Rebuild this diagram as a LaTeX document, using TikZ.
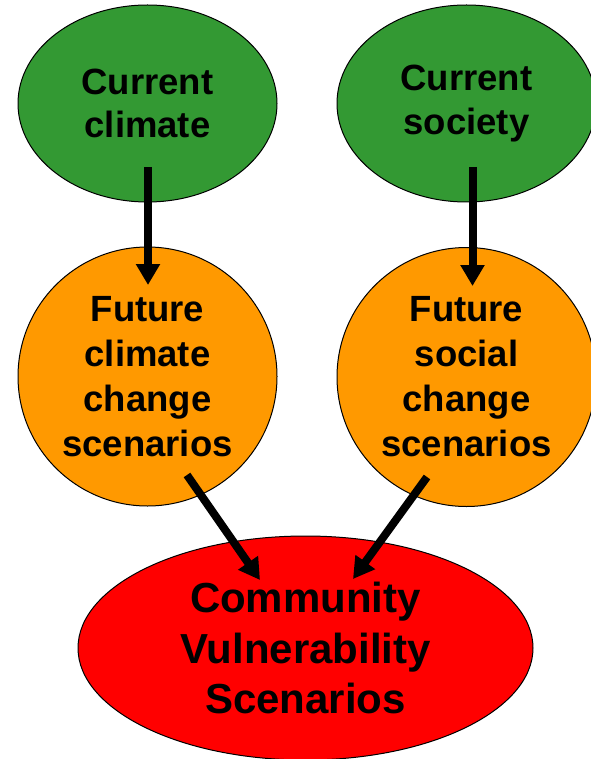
\documentclass[tikz,border=0pt]{standalone}
\usepackage{fontspec}
\setmainfont{Liberation Sans}
\usetikzlibrary{shapes.geometric,arrows.meta}
\definecolor{nowgreen}{RGB}{51,153,51}
\definecolor{futorange}{RGB}{255,153,0}
\definecolor{vulnred}{RGB}{255,0,0}
\begin{document}
\begin{tikzpicture}[x=1pt,y=-1pt,
		nowbox/.style={ellipse,draw=black,line width=1pt,fill=nowgreen,minimum width=259pt,minimum height=197pt,inner sep=0pt,align=center,font=\fontsize{36.5}{43.5}\selectfont\bfseries,execute at begin node={\rule{0pt}{33pt}}},
		futurebox/.style={circle,draw=black,line width=1pt,fill=futorange,minimum size=259pt,inner sep=0pt,align=center,font=\fontsize{36.5}{45}\selectfont\bfseries},
		vulnbox/.style={ellipse,draw=black,line width=1pt,fill=vulnred,minimum width=455pt,minimum height=224pt,inner sep=0pt,align=center,font=\fontsize{42}{50.5}\selectfont\bfseries},
		flow/.style={line width=8pt,-{Triangle[width=23pt,length=21pt]}}]
			\useasboundingbox (0,0) rectangle (590,759);
			\node[nowbox] (cc) at (147.5,103.5) {Current\\climate};
			\node[nowbox] (cs) at (466.5,103.5) {Current\\society};
			\node[futurebox] (fc) at (147.5,376.5) {Future\\climate\\change\\scenarios};
			\node[futurebox] (fs) at (466.5,377) {Future\\social\\change\\scenarios};
			\node[vulnbox] (cv) at (305.5,648) {Community\\Vulnerability\\Scenarios};
			\draw[flow] ([shift={(0.5,63.5)}]cc.center) -- ([shift={(0.5,-91.5)}]fc.center);
			\draw[flow] ([shift={(6,63.5)}]cs.center) -- ([shift={(6,-91)}]fs.center);
			\draw[flow] ([shift={(39.5,98.5)}]fc.center) -- ([shift={(-45.5,-68)}]cv.center);
			\draw[flow] ([shift={(-39.5,100)}]fs.center) -- ([shift={(47.5,-69)}]cv.center);
		\end{tikzpicture}
\end{document}
